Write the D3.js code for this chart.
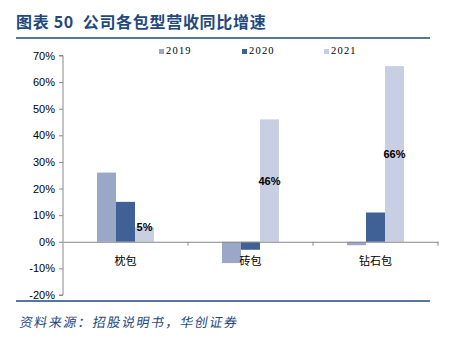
<!DOCTYPE html>
<html>
<head>
<meta charset="utf-8">
<script src="https://cdn.jsdelivr.net/npm/d3@7"></script>
<style>
  body { margin: 0; background: #fff; }
  svg { display: block; }
</style>
</head>
<body>
<div id="chart"></div>
<script>
// Data
const categories = ["枕包", "砖包", "钻石包"];
const years = ["2019", "2020", "2021"];
const values2019 = [26, -8, -1.3];
const values2020 = [15, -3, 11];
const values2021 = [5.4, 46, 66];
const yTicks = [-20, -10, 0, 10, 20, 30, 40, 50, 60, 70];
const colors = ["#9AA7C8", "#3F6196", "#C8CFE3"];

const series = [values2019, values2020, values2021];

function draw() {
  const width = 452;
  const height = 339;
  const margins = { left: 63, right: 14, top: 55.5, bottom: 44 };

  const svg = d3
    .select("#chart")
    .append("svg")
    .attr("width", width)
    .attr("height", height);

  // Title
  svg
    .append("text")
    .attr("x", 16)
    .attr("y", 28)
    .attr("fill", "#1F497D")
    .attr("font-family", "'Noto Sans CJK SC', serif")
    .attr("font-weight", "bold")
    .attr("font-size", 16)
    .attr("letter-spacing", 0.7)
    .attr("xml:space", "preserve")
    .text("图表 50  公司各包型营收同比增速");

  svg
    .append("line")
    .attr("x1", 16)
    .attr("x2", 430)
    .attr("y1", 38)
    .attr("y2", 38)
    .attr("stroke", "#1F497D")
    .attr("stroke-width", 1.5);

  svg
    .append("line")
    .attr("x1", 16)
    .attr("x2", 430)
    .attr("y1", 301)
    .attr("y2", 301)
    .attr("stroke", "#1F497D")
    .attr("stroke-width", 1.5);

  // Source
  svg
    .append("text")
    .attr("x", 0)
    .attr("y", 0)
    .attr("fill", "#1F497D")
    .attr("font-family", "'Noto Sans CJK SC', sans-serif")
    .attr("font-size", 13)
    .attr("letter-spacing", 1.6)
    .attr("transform", "translate(19,327) skewX(-10)")
    .text("资料来源：招股说明书，华创证券");

  // Scales
  const yScale = d3
    .scaleLinear()
    .domain([-20, 70])
    .range([295, margins.top]);

  const xScale = d3
    .scaleBand()
    .domain(categories)
    .range([margins.left, width - margins.right])
    .paddingInner(0)
    .paddingOuter(0);

  const inner = d3
    .scaleBand()
    .domain(years)
    .range([0, xScale.bandwidth()])
    .paddingInner(0)
    .paddingOuter(1.79);

  // Bars
  const ctr = svg.append("g");
  series.forEach((vals, si) => {
    ctr
      .selectAll(null)
      .data(vals)
      .join("rect")
      .attr("x", (d, i) => xScale(categories[i]) + inner(years[si]))
      .attr("width", inner.bandwidth())
      .attr("y", (d) => yScale(Math.max(0, d)))
      .attr("height", (d) => Math.abs(yScale(d) - yScale(0)))
      .attr("fill", colors[si]);
  });

  // Labels for 2021
  ctr
    .selectAll(null)
    .data(values2021)
    .join("text")
    .attr("x", (d, i) => xScale(categories[i]) + inner("2021") + inner.bandwidth() / 2)
    .attr("y", (d) => {
      const h = Math.abs(yScale(d) - yScale(0));
      return (h < 20 ? yScale(d) : yScale(d / 2)) + 4;
    })
    .attr("text-anchor", "middle")
    .attr("font-family", "'Liberation Sans', Arial, sans-serif")
    .attr("font-weight", "bold")
    .attr("font-size", 11)
    .attr("fill", "#000")
    .text((d) => Math.round(d) + "%");

  // Axes
  const yAxis = d3
    .axisLeft(yScale)
    .tickValues(yTicks)
    .tickSize(4)
    .tickFormat((d) => d + "%");

  const yAxisGroup = svg
    .append("g")
    .attr("transform", `translate(${margins.left},0)`)
    .call(yAxis);
  yAxisGroup.select(".domain").attr("stroke", "#888").attr("d", `M-4,${yScale(70)}H0V${yScale(-20)}H-4`);
  yAxisGroup.selectAll(".tick line").attr("stroke", "#888");
  yAxisGroup
    .selectAll(".tick text")
    .attr("x", -8)
    .attr("font-family", "'Liberation Sans', Arial, sans-serif")
    .attr("font-size", 11)
    .attr("fill", "#000");

  const xAxis = d3.axisBottom(xScale).tickSize(0).tickSizeOuter(0);
  const xAxisGroup = svg
    .append("g")
    .attr("transform", `translate(0,${yScale(0)})`)
    .call(xAxis);
  xAxisGroup.select(".domain").attr("stroke", "#888");
  xAxisGroup
    .selectAll(".tick text")
    .attr("dy", 0)
    .attr("y", 23)
    .attr("font-family", "'Noto Sans CJK SC', sans-serif")
    .attr("font-size", 11)
    .attr("fill", "#000");

  // Category separators
  xAxisGroup
    .selectAll(".sep")
    .data(categories)
    .join("line")
    .attr("x1", (d) => xScale(d) + xScale.bandwidth())
    .attr("x2", (d) => xScale(d) + xScale.bandwidth())
    .attr("y1", 0)
    .attr("y2", 4)
    .attr("stroke", "#888");

  // Legend
  const legendX = [159, 242, 324];
  const legend = svg
    .selectAll(".legend")
    .data(years)
    .join("g")
    .attr("transform", (d, i) => `translate(${legendX[i]},54)`);
  legend
    .append("rect")
    .attr("x", 0)
    .attr("y", -5)
    .attr("width", 5)
    .attr("height", 5)
    .attr("fill", (d, i) => colors[i]);
  legend
    .append("text")
    .attr("x", 7)
    .attr("y", 0)
    .attr("font-family", "'Liberation Serif', 'Times New Roman', serif")
    .attr("font-size", 10.5)
    .attr("letter-spacing", 1.2)
    .attr("fill", "#000")
    .text((d) => d);
}

draw();
</script>
</body>
</html>
